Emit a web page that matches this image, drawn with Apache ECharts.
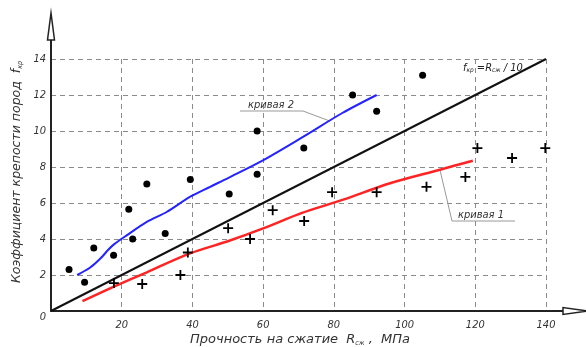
<!DOCTYPE html>
<html>
<head>
<meta charset="utf-8">
<script src="https://cdn.jsdelivr.net/npm/echarts@6/dist/echarts.min.js"></script>
<style>
html, body { margin: 0; padding: 0; background: #fff; }
#chart { width: 586px; height: 347px; }
</style>
</head>
<body>
<div id="chart"></div>
<script>
// точки: [R сж, МПа ; f кр]
var dots = [[5.1, 2.3], [9.5, 1.6], [12.1, 3.5], [17.7, 3.1], [22.0, 5.65], [23.1, 4.0], [27.1, 7.05],
  [32.3, 4.3], [39.4, 7.3], [50.4, 6.5], [58.3, 7.6], [58.3, 10.0], [71.5, 9.05], [85.3, 12.0],
  [92.1, 11.1], [105.1, 13.1]]
var crosses = [[17.8, 1.55], [25.8, 1.5], [36.6, 2.0], [38.7, 3.25], [50.1, 4.6], [56.3, 4.0],
  [62.7, 5.6], [71.6, 5.0], [79.5, 6.6], [92.1, 6.6], [106.2, 6.9], [117.2, 7.45], [120.6, 9.05],
  [130.4, 8.5], [139.8, 9.05]]
var curve2 = [[7.4, 2.0], [11, 2.4], [13.9, 2.9], [16.2, 3.4], [17.8, 3.7], [21.4, 4.2], [27.1, 4.95],
  [32.7, 5.5], [39.4, 6.35], [45, 6.9], [50.2, 7.4], [60.2, 8.4], [71.5, 9.7], [82.4, 11.0], [92.1, 12.0]] // кривая 2
var curve1 = [[8.9, 0.55], [17.8, 1.35], [27.1, 2.15], [39.3, 3.2], [50.4, 3.9], [60.2, 4.6], [71, 5.45],
  [82.4, 6.17], [95.9, 7.1], [110, 7.85], [119.3, 8.35]] // кривая 1
var lineFkr = [[0, 0], [140, 14]] // f кр = R сж / 10
var xTicks = [0, 20, 40, 60, 80, 100, 120, 140]
var yTicks = [0, 2, 4, 6, 8, 10, 12, 14]

var FONT = "'DejaVu Sans Condensed', 'DejaVu Sans', sans-serif"
var FONT_W = "'DejaVu Sans', sans-serif"
var txt = '#333'

var myChart = echarts.init(document.getElementById('chart'))
var option = {
  animation: false,
  backgroundColor: '#fff',
  grid: { left: 51, right: 40, top: 59, bottom: 36 },
  xAxis: {
    type: 'value',
    min: xTicks[0],
    max: xTicks[xTicks.length - 1],
    interval: xTicks[1] - xTicks[0],
    axisLine: { show: true, lineStyle: { color: '#222', width: 2 } },
    axisTick: { show: false },
    axisLabel: {
      margin: 9,
      color: txt,
      fontFamily: FONT,
      fontStyle: 'italic',
      fontSize: 11,
      formatter: function (v) { return v === 0 ? '' : String(v) }
    },
    splitLine: { show: true, lineStyle: { color: '#8a8a8a', width: 1, type: [5, 4] } }
  },
  yAxis: {
    type: 'value',
    min: yTicks[0],
    max: yTicks[yTicks.length - 1],
    interval: yTicks[1] - yTicks[0],
    axisLine: { show: true, lineStyle: { color: '#222', width: 2 } },
    axisTick: { show: false },
    axisLabel: {
      margin: 5,
      color: txt,
      fontFamily: FONT,
      fontStyle: 'italic',
      fontSize: 11,
      formatter: function (v) { return v === 0 ? '' : String(v) }
    },
    splitLine: { show: true, lineStyle: { color: '#8a8a8a', width: 1, type: [5, 4] } }
  },
  series: [
    {
      name: 'fkr',
      type: 'line',
      data: lineFkr,
      symbol: 'none',
      lineStyle: { color: '#111', width: 2 },
      z: 3
    },
    {
      name: 'кривая 2',
      type: 'line',
      data: curve2,
      smooth: 0.3,
      symbol: 'none',
      lineStyle: { color: '#2323ff', width: 2 },
      z: 3
    },
    {
      name: 'кривая 1',
      type: 'line',
      data: curve1,
      smooth: 0.3,
      symbol: 'none',
      lineStyle: { color: '#ff2323', width: 2.5 },
      z: 3
    },
    {
      name: 'dots',
      type: 'scatter',
      data: dots,
      symbol: 'circle',
      symbolSize: 7,
      itemStyle: { color: '#000', opacity: 1 },
      z: 4
    },
    {
      name: 'crosses',
      type: 'scatter',
      data: crosses,
      symbol: 'path://M4.1,0h1.8v4.1h4.1v1.8h-4.1v4.1h-1.8v-4.1h-4.1v-1.8h4.1z',
      symbolSize: 10,
      itemStyle: { color: '#000', opacity: 1 },
      z: 4
    }
  ]
}
myChart.setOption(option)

// стрелки осей, подписи, выноски
var o = myChart.convertToPixel({ gridIndex: 0 }, [0, 0])
var c = myChart.convertToPixel({ gridIndex: 0 }, [140, 14])
var p2 = myChart.convertToPixel({ gridIndex: 0 }, [78.9, 10.55])
var p1 = myChart.convertToPixel({ gridIndex: 0 }, [110, 7.85])
var italic = { fontFamily: FONT, fontStyle: 'italic', fill: txt }

myChart.setOption({
  graphic: [
    // ось Y продолжение + стрелка
    { type: 'line', shape: { x1: o[0], y1: c[1], x2: o[0], y2: c[1] - 19 }, style: { stroke: '#222', lineWidth: 2 } },
    { type: 'polygon', shape: { points: [[o[0] - 3.5, c[1] - 19], [o[0] + 3.5, c[1] - 19], [o[0], c[1] - 46]] },
      style: { fill: '#fff', stroke: '#222', lineWidth: 1.5 } },
    // ось X продолжение + стрелка
    { type: 'line', shape: { x1: c[0], y1: o[1], x2: c[0] + 17, y2: o[1] }, style: { stroke: '#222', lineWidth: 2 } },
    { type: 'polygon', shape: { points: [[c[0] + 17, o[1] - 3.5], [c[0] + 17, o[1] + 3.5], [c[0] + 42, o[1]]] },
      style: { fill: '#fff', stroke: '#222', lineWidth: 1.5 } },
    // 0
    { type: 'text', x: o[0] - 8, y: o[1] + 6, style: Object.assign({ text: '0', fontSize: 11, align: 'center', verticalAlign: 'middle' }, italic) },
    // подпись оси X
    { type: 'text', x: 300, y: 340,
      style: Object.assign({
        text: '{a|Прочность на сжатие  R}{s|сж}{a| ,  МПа}',
        align: 'center', verticalAlign: 'middle',
        rich: {
          a: { fontFamily: FONT_W, fontStyle: 'italic', fontSize: 13, fill: txt },
          s: { fontFamily: FONT, fontStyle: 'italic', fontSize: 7, fill: txt, padding: [7, 0, 0, 0] }
        }
      }, italic) },
    // подпись оси Y
    { type: 'text', x: 17, y: 172, rotation: Math.PI / 2,
      style: Object.assign({
        text: '{a|Коэффициент крепости пород  f}{s|кр}',
        align: 'center', verticalAlign: 'middle',
        rich: {
          a: { fontFamily: FONT_W, fontStyle: 'italic', fontSize: 12.5, fill: txt },
          s: { fontFamily: FONT, fontStyle: 'italic', fontSize: 7, fill: txt, padding: [7, 0, 0, 0] }
        }
      }, italic) },
    // f кр = R сж / 10
    { type: 'text', x: 463, y: 68,
      style: Object.assign({
        text: '{a|f}{s|кр}{a| =R}{s|сж}{a| / 10}',
        align: 'left', verticalAlign: 'middle',
        rich: {
          a: { fontFamily: FONT, fontStyle: 'italic', fontSize: 11, fill: '#222' },
          s: { fontFamily: FONT, fontStyle: 'italic', fontSize: 6.5, fill: '#222', padding: [5, 0, 0, 0] }
        }
      }, italic) },
    // кривая 2
    { type: 'polyline', shape: { points: [[240, 111], [303, 111], [p2[0], p2[1]]] }, style: { stroke: '#999', lineWidth: 1, fill: null } },
    { type: 'text', x: 248, y: 105, style: Object.assign({ text: 'кривая 2', fontSize: 11, align: 'left', verticalAlign: 'middle' }, italic) },
    // кривая 1
    { type: 'polyline', shape: { points: [[p1[0], p1[1]], [452, 221], [515, 221]] }, style: { stroke: '#999', lineWidth: 1, fill: null } },
    { type: 'text', x: 458, y: 215, style: Object.assign({ text: 'кривая 1', fontSize: 11, align: 'left', verticalAlign: 'middle' }, italic) }
  ]
})
</script>
</body>
</html>
